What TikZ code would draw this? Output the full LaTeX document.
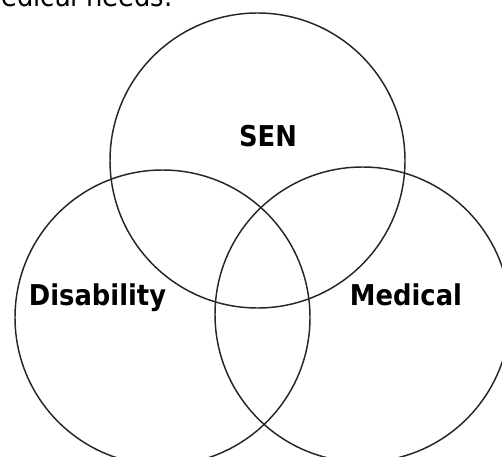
\documentclass[tikz,border=0pt]{standalone}
\usepackage{fontspec}
\newfontfamily\vennfont[FakeStretch=0.9]{DejaVu Sans}
\tikzset{
  venn/.style={circle, draw=black!85, line width=1.1pt, minimum size=221.25pt, inner sep=0pt},
  vennlabel/.style={anchor=base, inner sep=0pt, font=\vennfont\bfseries\fontsize{21.5}{24}\selectfont},
  caption/.style={anchor=base west, inner sep=0pt, font=\vennfont\fontsize{21.5}{24}\selectfont}
}
\begin{document}
\begin{tikzpicture}[x=0.75pt, y=-0.75pt]
  \useasboundingbox (0,0) rectangle (502,456);
  \clip (0,0) rectangle (502,456);
  \node[caption] (head) at (-24,7) {medical needs.};
  \node[venn] (sen) at (257.5,160.5) {};
  \node[venn] (dis) at (162.5,317.5) {};
  \node[venn] (med) at (362.5,314.5) {};
  \node[vennlabel] (senlab) at (268,146) {SEN};
  \node[vennlabel] (dislab) at (97.5,305) {Disability};
  \node[vennlabel] (medlab) at (406,305) {Medical};
\end{tikzpicture}
\end{document}
